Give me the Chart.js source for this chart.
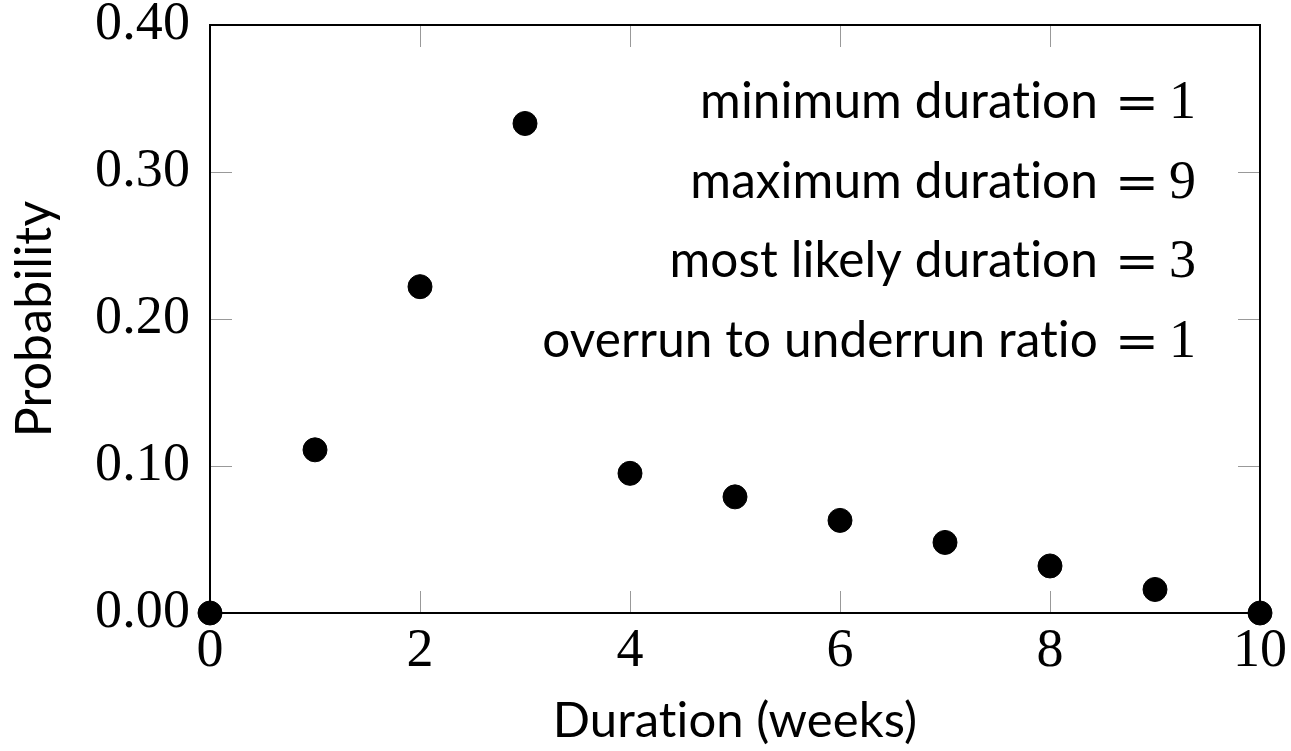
<!DOCTYPE html>
<html>
<head>
<meta charset="utf-8">
<script src="https://cdn.jsdelivr.net/npm/chart.js@4.4.1/dist/chart.umd.min.js"></script>
<style>
  html, body { margin: 0; padding: 0; background: #fff; }
  #wrap { width: 1291px; height: 751px; }
</style>
</head>
<body>
<div id="wrap"><canvas id="myChart"></canvas></div>
<script>
const durations = [0, 1, 2, 3, 4, 5, 6, 7, 8, 9, 10];
const probabilities = [0, 0.111, 0.222, 0.333, 0.095, 0.079, 0.063, 0.048, 0.032, 0.016, 0];
const xTicks = [0, 2, 4, 6, 8, 10];
const yTicks = [0, 0.1, 0.2, 0.3, 0.4];
const noteText = ['minimum duration', 'maximum duration', 'most likely duration', 'overrun to underrun ratio'];
const noteValues = ['1', '9', '3', '1'];

const serif = '"Liberation Serif", "Times New Roman", serif';
const sans = 'Lato, "Noto Sans", sans-serif';

// box + inward ticks on all four sides, like pgfplots
const frame = {
    id: 'frame',
    beforeDraw(chart) {
        // tiny letter spacing stops Lato's "ti" ligature
        chart.ctx.letterSpacing = '0.1px';
    },
    beforeDatasetsDraw(chart) {
        const { ctx, chartArea: a, scales: { x, y } } = chart;
        ctx.save();
        ctx.strokeStyle = '#999';
        ctx.lineWidth = 1;
        ctx.beginPath();
        xTicks.forEach(v => {
            const px = Math.round(x.getPixelForValue(v)) + 0.5;
            ctx.moveTo(px, a.bottom); ctx.lineTo(px, a.bottom - 22);
            ctx.moveTo(px, a.top); ctx.lineTo(px, a.top + 22);
        });
        yTicks.forEach(v => {
            const py = Math.round(y.getPixelForValue(v)) + 0.5;
            ctx.moveTo(a.left, py); ctx.lineTo(a.left + 22, py);
            ctx.moveTo(a.right, py); ctx.lineTo(a.right - 22, py);
        });
        ctx.stroke();
        ctx.strokeStyle = '#000';
        ctx.lineWidth = 2;
        ctx.strokeRect(a.left, a.top, a.right - a.left, a.bottom - a.top);
        ctx.restore();
    },
    afterDraw(chart) {
        const { ctx, chartArea: a } = chart;
        ctx.save();
        ctx.fillStyle = '#000';
        ctx.textBaseline = 'alphabetic';
        const right = a.right - 64;
        noteText.forEach((t, i) => {
            const base = 118 + i * 79.5;
            ctx.textAlign = 'right';
            ctx.font = '54px ' + serif;
            ctx.fillText(noteValues[i], right, base);
            // wider "=" like the TeX one
            ctx.save();
            ctx.translate(right - 59, base);
            ctx.scale(1.15, 1);
            ctx.textAlign = 'center';
            ctx.font = '46px "DejaVu Serif", serif';
            ctx.fillText('=', 0, 0);
            ctx.restore();
            ctx.textAlign = 'right';
            ctx.font = '49.5px ' + sans;
            ctx.fillText(t, right - 98, base);
        });
        ctx.restore();
    }
};

new Chart(document.getElementById('myChart'), {
    type: 'scatter',
    data: {
        datasets: [{
            label: 'Probability',
            data: durations.map((d, i) => ({ x: d, y: probabilities[i] })),
            backgroundColor: '#000',
            borderColor: '#000',
            pointRadius: 12,
            pointHoverRadius: 12,
            clip: false
        }]
    },
    options: {
        responsive: true,
        maintainAspectRatio: false,
        animation: false,
        layout: { padding: { left: 0, top: 25, right: 31, bottom: 0 } },
        plugins: { legend: { display: false }, tooltip: { enabled: false } },
        scales: {
            x: {
                type: 'linear',
                min: 0,
                max: 10,
                afterFit(scale) { scale.height = 138; scale.paddingLeft = 0; scale.paddingRight = 0; },
                afterBuildTicks(scale) { scale.ticks = xTicks.map(v => ({ value: v })); },
                grid: { display: false, drawTicks: false },
                border: { display: false },
                ticks: {
                    color: '#000',
                    font: { family: serif, size: 54 },
                    padding: 6,
                    maxRotation: 0
                },
                title: {
                    display: true,
                    text: 'Duration (weeks)',
                    color: '#000',
                    font: { family: sans, size: 49 },
                    padding: { top: 0, bottom: 0 }
                }
            },
            y: {
                min: 0,
                max: 0.4,
                afterFit(scale) { scale.width = 210; scale.paddingTop = 0; scale.paddingBottom = 0; },
                afterBuildTicks(scale) { scale.ticks = yTicks.map(v => ({ value: v })); },
                grid: { display: false, drawTicks: false },
                border: { display: false },
                ticks: {
                    color: '#000',
                    font: { family: serif, size: 54 },
                    padding: 20,
                    callback: v => v.toFixed(2)
                },
                title: {
                    display: true,
                    text: 'Probability',
                    color: '#000',
                    font: { family: sans, size: 50 },
                    padding: { top: 5, bottom: 0 }
                }
            }
        }
    },
    plugins: [frame]
});
</script>
</body>
</html>
